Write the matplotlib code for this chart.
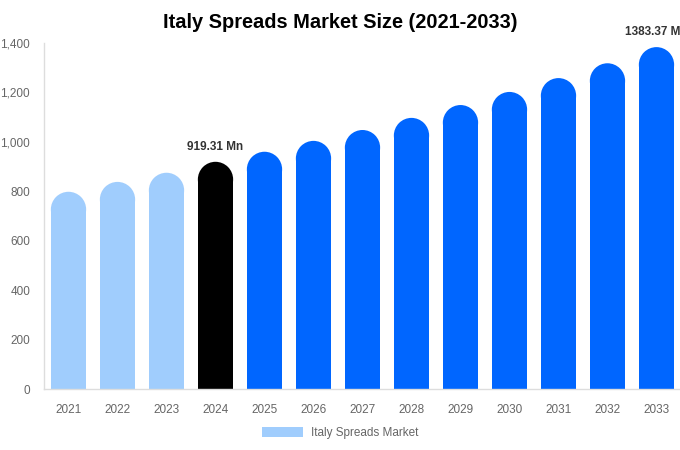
import matplotlib
matplotlib.use("Agg")
import matplotlib.pyplot as plt
from matplotlib.patches import Rectangle, Ellipse, Patch

plt.rcParams['font.family'] = ['Liberation Sans', 'DejaVu Sans']

years = ["2021", "2022", "2023", "2024", "2025", "2026", "2027",
         "2028", "2029", "2030", "2031", "2032", "2033"]
values = [798, 838, 875, 919.31, 960, 1004, 1048, 1097, 1149, 1202, 1258, 1318, 1383.37]
colors = ["#a0cdfd"] * 3 + ["#000000"] + ["#0066ff"] * 9
labels = {3: "919.31 Mn", 12: "1383.37 Mn"}
title = "Italy Spreads Market Size (2021-2033)"
legend_label = "Italy Spreads Market"
yticks = [0, 200, 400, 600, 800, 1000, 1200, 1400]

W, H = 680, 450
fig = plt.figure(figsize=(W / 100, H / 100), dpi=100)
ax = fig.add_axes([44 / W, (H - 389) / H, 636 / W, 346 / H])
ax.set_xlim(-0.5, 12.48)
ax.set_ylim(0, 1400)

bw = 0.72
px_per_x = 636 / (12.98)
px_per_y = 346 / 1400
r_px = bw * px_per_x / 2
ry = r_px / px_per_y

for i, (v, c) in enumerate(zip(values, colors)):
    ax.add_patch(Rectangle((i - bw / 2, 0), bw, v - ry, facecolor=c, edgecolor='none'))
    ax.add_patch(Ellipse((i, v - ry), bw, 2 * ry, facecolor=c, edgecolor='none'))
    if i in labels:
        ax.text(i, v + 35, labels[i], ha='center', va='bottom', fontsize=8.5,
                fontweight='bold', color='#333333', clip_on=False)

ax.set_xticks(range(len(years)))
ax.set_xticklabels(years)
ax.set_yticks(yticks)
ax.set_yticklabels([f"{t:,}" for t in yticks])
ax.tick_params(axis='both', length=0, labelsize=8.5, labelcolor='#666666')
ax.tick_params(axis='x', pad=11)
ax.tick_params(axis='y', pad=10)
for s in ['top', 'right']:
    ax.spines[s].set_visible(False)
for s in ['left', 'bottom']:
    ax.spines[s].set_color('#dddddd')
    ax.spines[s].set_linewidth(1)

fig.text(340 / W, 1 - 22 / H, title, ha='center', va='center', fontsize=14.4,
         fontweight='bold', color='#000000')

handle = Patch(facecolor="#a0cdfd", edgecolor='none')
fig.legend([handle], [legend_label], loc='center', bbox_to_anchor=(340 / W, 1 - 433 / H),
           frameon=False, fontsize=8.5, labelcolor='#666666', handlelength=3.5,
           handleheight=0.95, handletextpad=0.6)

fig.savefig("out.png", dpi=100)
